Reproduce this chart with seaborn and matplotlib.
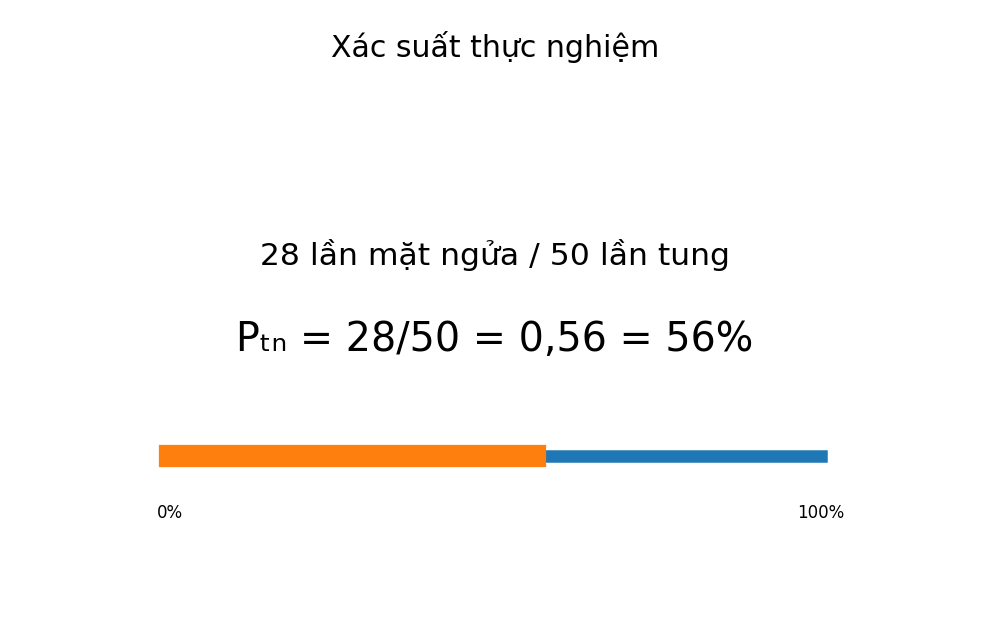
import matplotlib
matplotlib.use("Agg")
import matplotlib.pyplot as plt
import seaborn as sns

# Data
heads = 28
tosses = 50
p = heads / tosses
full_x = [0, 1]
full_y = [0, 0]
part_x = [0, p]
part_y = [0, 0]
tick_pos = [0, 1]
tick_labels = ["0%", "100%"]

sns.set_style("white")
plt.rcParams['font.family'] = ['DejaVu Sans']
plt.rcParams['text.color'] = 'black'

fig = plt.figure(figsize=(9.9, 6.32), dpi=100)

# texts
fig.text(0.5, 1 - 47 / 632, "Xác suất thực nghiệm", ha="center", va="center", fontsize=21.6)
fig.text(0.5, 1 - 255 / 632, f"{heads} lần mặt ngửa / {tosses} lần tung",
         ha="center", va="center", fontsize=22.6)
pct = f"{p:.2f}".replace(".", ",")
fig.text(0.5, 1 - 340 / 632, f"Pₜₙ = {heads}/{tosses} = {pct} = {round(p * 100)}%",
         ha="center", va="center", fontsize=28.5)

# progress bar (thick lines, projecting caps, not clipped by the axes)
ax = fig.add_axes([170 / 990, 0.1535, 651 / 990, 0.25])
sns.lineplot(x=full_x, y=full_y, ax=ax, color="#1f77b4", linewidth=9)
sns.lineplot(x=part_x, y=part_y, ax=ax, color="#ff7f0e", linewidth=16)
for line in ax.lines:
    line.set_solid_capstyle("projecting")
    line.set_clip_on(False)
for xp, lab in zip(tick_pos, tick_labels):
    ax.text(xp, -0.722, lab, ha="center", va="center", fontsize=12, color="black")
ax.set_xlim(0, 1)
ax.set_ylim(-1, 1)
ax.axis("off")

fig.savefig("out.png", dpi=100)
